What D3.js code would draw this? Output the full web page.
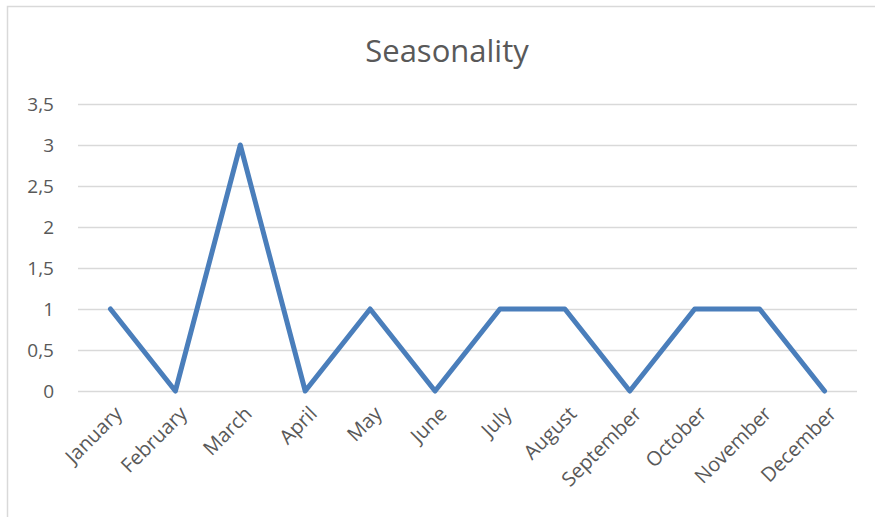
<!DOCTYPE html>
<html>
<head>
<meta charset="utf-8">
<script src="https://cdn.jsdelivr.net/npm/d3@7"></script>
<style>
  html, body { margin: 0; padding: 0; background: #fff; }
  svg { display: block; }
</style>
</head>
<body>
<svg id="chart" width="875" height="517"></svg>
<script>
// Monthly seasonality counts
const months = ["January", "February", "March", "April", "May", "June",
                "July", "August", "September", "October", "November", "December"];
const values = [1, 0, 3, 0, 1, 0, 1, 1, 0, 1, 1, 0];
const yTicks = [0, 0.5, 1, 1.5, 2, 2.5, 3, 3.5];
const title = "Seasonality";

const W = 875, H = 517;
const plot = { left: 78, right: 857, top: 104, bottom: 391 };
const textColor = "#595959";
const gridColor = "#d9d9d9";
const lineColor = "#4a7ebb";

const svg = d3.select("#chart");

// Chart frame (left and top edges visible)
svg.append("path")
  .attr("d", `M7.5,${H} L7.5,6.5 L${W},6.5`)
  .attr("fill", "none")
  .attr("stroke", gridColor)
  .attr("stroke-width", 1.5);

const x = d3.scaleBand().domain(months).range([plot.left, plot.right]);
const y = d3.scaleLinear().domain([0, 3.5]).range([plot.bottom, plot.top]);

const fmt = v => String(v).replace(".", ",");

// Horizontal gridlines + y labels
const yAxis = d3.axisLeft(y)
  .tickValues(yTicks)
  .tickFormat(fmt)
  .tickSize(-(plot.right - plot.left))
  .tickPadding(24);

const gy = svg.append("g")
  .attr("transform", `translate(${plot.left},0)`)
  .call(yAxis);
gy.select(".domain").remove();
gy.selectAll(".tick line").attr("stroke", gridColor).attr("stroke-width", 1.5);
gy.selectAll(".tick text")
  .attr("fill", textColor)
  .style("font-family", "'Open Sans', sans-serif")
  .style("font-size", "19px");

// Category axis with rotated labels
const xAxis = d3.axisBottom(x).tickSize(0).tickPadding(0);
const gx = svg.append("g")
  .attr("transform", `translate(0,${plot.bottom})`)
  .call(xAxis);
gx.select(".domain").remove();
gx.selectAll(".tick text")
  .attr("fill", textColor)
  .style("font-family", "'Open Sans', sans-serif")
  .style("font-size", "20px")
  .attr("text-anchor", "end")
  .attr("dy", null)
  .attr("y", 0)
  .attr("transform", "translate(13,24) rotate(-45)");

// Data line
const line = d3.line()
  .x((d, i) => x(months[i]) + x.bandwidth() / 2)
  .y(d => y(d));

svg.append("path")
  .datum(values)
  .attr("d", line)
  .attr("fill", "none")
  .attr("stroke", lineColor)
  .attr("stroke-width", 5)
  .attr("stroke-linejoin", "round")
  .attr("stroke-linecap", "round");

// Title
svg.append("text")
  .attr("x", 447)
  .attr("y", 62)
  .attr("text-anchor", "middle")
  .attr("fill", textColor)
  .style("font-family", "'Open Sans', sans-serif")
  .style("font-size", "31px")
  .text(title);
</script>
</body>
</html>
